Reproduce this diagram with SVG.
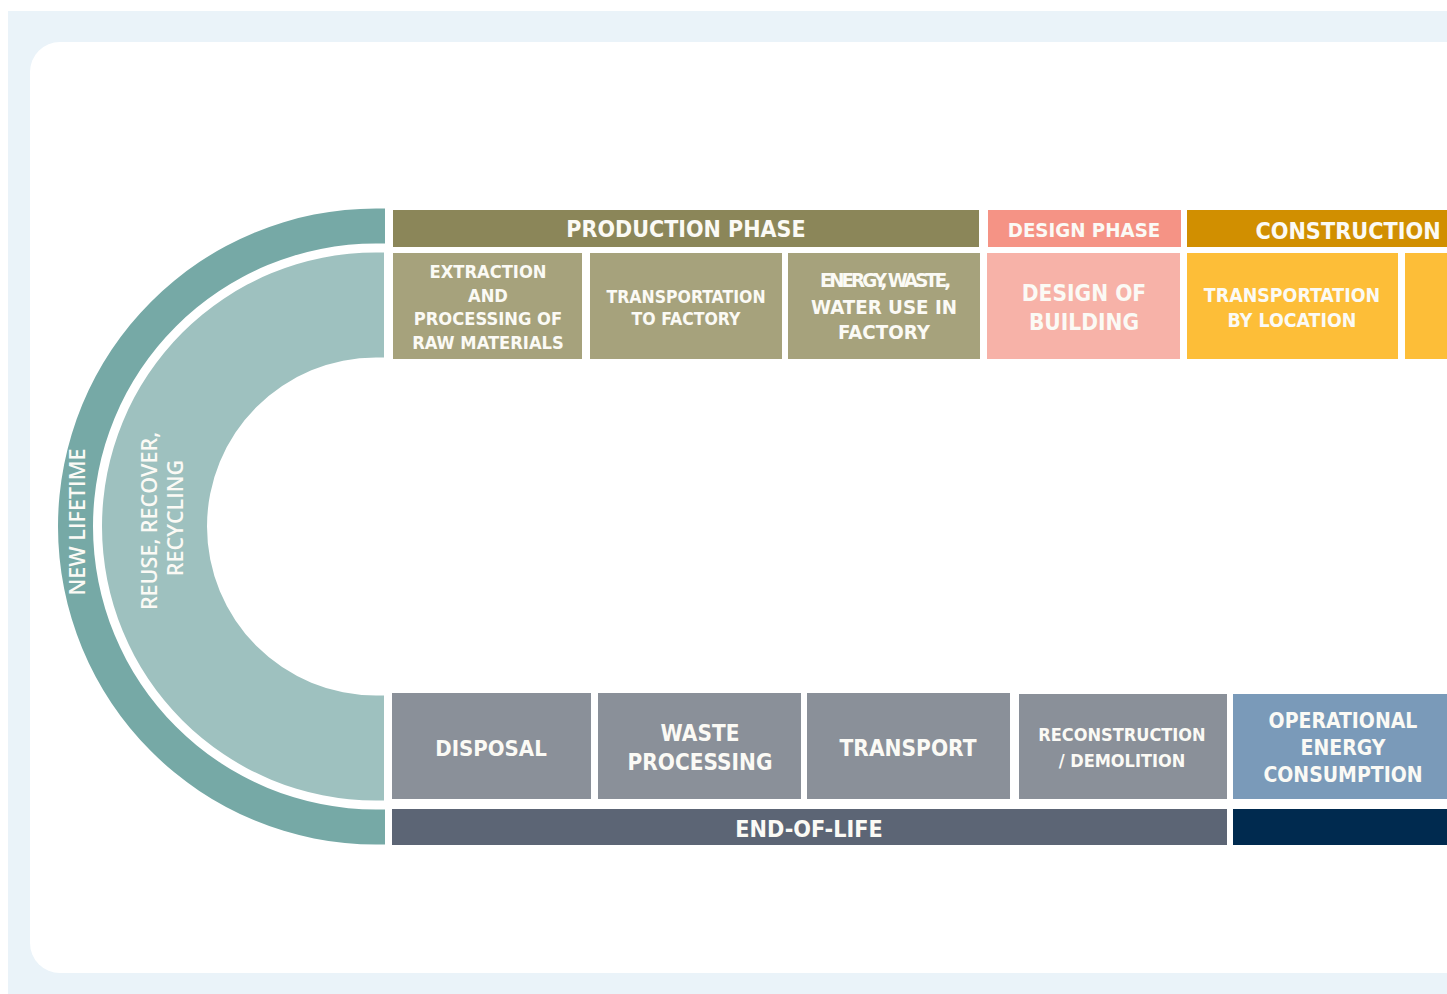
<svg xmlns="http://www.w3.org/2000/svg" width="1447" height="994" viewBox="0 0 1447 994">
  <style>
    .t { font-family: "DejaVu Sans Condensed", "DejaVu Sans", sans-serif; font-stretch: condensed; font-weight: bold; fill: #FBFAF5; text-anchor: middle; dominant-baseline: central; }
    .arc-t { font-family: "Open Sans", "DejaVu Sans", sans-serif; font-weight: 600; fill: #FBFAF5; text-anchor: middle; dominant-baseline: central; }
    .prod-h { fill: #8B8659; }
    .prod { fill: #A6A27C; }
    .design-h { fill: #F59385; }
    .design { fill: #F7B2A8; }
    .cons-h { fill: #D18F00; }
    .cons { fill: #FDBE38; }
    .eol { fill: #8A9099; }
    .eol-h { fill: #5C6575; }
    .use { fill: #7A9AB9; }
    .use-h { fill: #002A4F; }
  </style>

  <!-- page background and card -->
  <rect x="8" y="11" width="1439" height="983" fill="#EAF3F9"/>
  <rect x="30" y="42" width="1460" height="931" rx="30" fill="#FFFFFF"/>

  <!-- loop arcs -->
  <g id="new-lifetime">
    <path d="M385,208.5 L376,208.5 A318,318 0 0 0 376,844.5 L385,844.5 L385,809.5 L376,809.5 A283,283 0 0 1 376,243.5 L385,243.5 Z" fill="#76A9A6"/>
    <text class="arc-t" transform="translate(76,522) rotate(-90)" font-size="21.5" font-weight="700">NEW LIFETIME</text>
  </g>
  <g id="reuse">
    <path d="M384,252.5 L376,252.5 A274,274 0 0 0 376,800.5 L384,800.5 L384,695.5 L376,695.5 A169,169 0 0 1 376,357.5 L384,357.5 Z" fill="#9EC1BF"/>
    <text class="arc-t" transform="translate(148,521) rotate(-90)" font-size="21.5">REUSE, RECOVER,</text>
    <text class="arc-t" transform="translate(174,518) rotate(-90)" font-size="21.5">RECYCLING</text>
  </g>

  <!-- production phase -->
  <g id="production-phase">
    <rect class="prod-h" x="393" y="210" width="586" height="37"/>
    <text class="t" x="686" y="229" font-size="23">PRODUCTION PHASE</text>
  </g>
  <g id="extraction">
    <rect class="prod" x="393" y="253" width="189" height="106"/>
    <text class="t" font-size="18.2"><tspan x="488" y="271">EXTRACTION</tspan><tspan x="488" y="295">AND</tspan><tspan x="488" y="318">PROCESSING OF</tspan><tspan x="488" y="342">RAW MATERIALS</tspan></text>
  </g>
  <g id="transport-factory">
    <rect class="prod" x="590" y="253" width="192" height="106"/>
    <text class="t" font-size="17.5"><tspan x="686" y="297">TRANSPORTATION</tspan><tspan x="686" y="319">TO FACTORY</tspan></text>
  </g>
  <g id="factory-use">
    <rect class="prod" x="788" y="253" width="192" height="106"/>
    <text class="t" font-size="20.3"><tspan x="884" y="280" letter-spacing="-3">ENERGY, WASTE,</tspan><tspan x="884" y="307">WATER USE IN</tspan><tspan x="884" y="332">FACTORY</tspan></text>
  </g>

  <!-- design phase -->
  <g id="design-phase">
    <rect class="design-h" x="988" y="210" width="193" height="37"/>
    <text class="t" x="1084" y="230" font-size="20.3">DESIGN PHASE</text>
  </g>
  <g id="design-building">
    <rect class="design" x="987" y="253" width="193" height="106"/>
    <text class="t" font-size="22.5"><tspan x="1084" y="293">DESIGN OF</tspan><tspan x="1084" y="322">BUILDING</tspan></text>
  </g>

  <!-- construction -->
  <g id="construction">
    <rect class="cons-h" x="1187" y="210" width="270" height="37"/>
    <text class="t" x="1348" y="230" font-size="23.2">CONSTRUCTION</text>
  </g>
  <g id="transport-location">
    <rect class="cons" x="1187" y="253" width="211" height="106"/>
    <text class="t" font-size="19.4"><tspan x="1292" y="295">TRANSPORTATION</tspan><tspan x="1292" y="320">BY LOCATION</tspan></text>
  </g>
  <g id="construction-next">
    <rect class="cons" x="1405" y="253" width="52" height="106"/>
  </g>

  <!-- end of life -->
  <g id="disposal">
    <rect class="eol" x="392" y="693" width="199" height="106"/>
    <text class="t" x="491" y="748" font-size="22">DISPOSAL</text>
  </g>
  <g id="waste-processing">
    <rect class="eol" x="598" y="693" width="203" height="106"/>
    <text class="t" font-size="22.4"><tspan x="700" y="733">WASTE</tspan><tspan x="700" y="762">PROCESSING</tspan></text>
  </g>
  <g id="transport">
    <rect class="eol" x="807" y="693" width="203" height="106"/>
    <text class="t" x="908" y="748" font-size="22.5">TRANSPORT</text>
  </g>
  <g id="reconstruction">
    <rect class="eol" x="1019" y="694" width="208" height="105"/>
    <text class="t" font-size="18"><tspan x="1122" y="734">RECONSTRUCTION</tspan><tspan x="1122" y="760">/ DEMOLITION</tspan></text>
  </g>
  <g id="end-of-life">
    <rect class="eol-h" x="392" y="809" width="835" height="36"/>
    <text class="t" x="809" y="828" font-size="23.2">END-OF-LIFE</text>
  </g>

  <!-- use phase -->
  <g id="operational-energy">
    <rect class="use" x="1233" y="694" width="224" height="105"/>
    <text class="t" font-size="21"><tspan x="1343" y="721">OPERATIONAL</tspan><tspan x="1343" y="748">ENERGY</tspan><tspan x="1343" y="775">CONSUMPTION</tspan></text>
  </g>
  <g id="use-phase">
    <rect class="use-h" x="1233" y="809" width="224" height="36"/>
  </g>

  <g id="connectors"></g>
</svg>
